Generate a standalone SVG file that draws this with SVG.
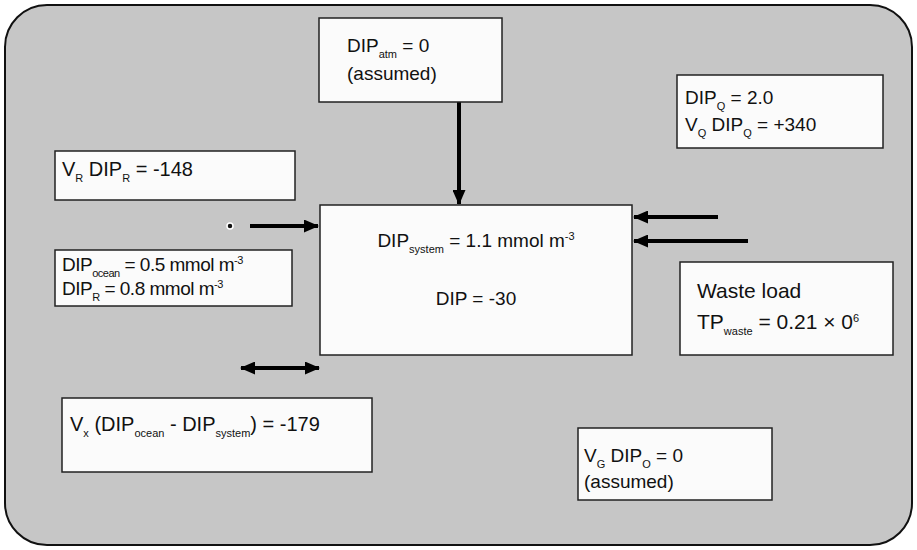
<svg xmlns="http://www.w3.org/2000/svg" width="917" height="550" viewBox="0 0 917 550">
<defs>
<marker id="ah" markerUnits="userSpaceOnUse" markerWidth="15" markerHeight="13" refX="14" refY="6.5" orient="auto-start-reverse">
<path d="M0,0 L15,6.5 L0,13 z" fill="#000"/>
</marker>
<style>
.bg{fill:#c6c6c6;stroke:#111;stroke-width:2}
.box{fill:#fbfbfb;stroke:#222;stroke-width:1.5}
text{font-family:"Liberation Sans",Arial,sans-serif;font-size:19px;fill:#111}
text.f20{font-size:20px}
text.f21{font-size:21px}
.sub{font-size:11px}
.tight{letter-spacing:-0.5px}
.con{stroke:#000;stroke-width:4;fill:none}
</style>
</defs>
<rect class="bg" x="5" y="5" width="907" height="540" rx="42" ry="42"/>

<g id="connectors">
<line class="con" x1="459" y1="102" x2="459" y2="204" marker-end="url(#ah)"/>
<line class="con" x1="250" y1="226" x2="318" y2="226" marker-end="url(#ah)"/>
<line class="con" x1="241" y1="368" x2="319" y2="368" marker-start="url(#ah)" marker-end="url(#ah)"/>
<line class="con" x1="718" y1="217" x2="634" y2="217" marker-end="url(#ah)"/>
<line class="con" x1="748" y1="241" x2="634" y2="241" marker-end="url(#ah)"/>
<line class="con" x1="770" y1="437" x2="670" y2="437" marker-end="url(#ah)"/>
<circle cx="230" cy="226" r="3" fill="#111" stroke="#fff" stroke-width="1.5"/>
</g>

<g id="atm">
<rect class="box" x="319" y="18" width="183" height="84"/>
<text x="347" y="52">DIP<tspan class="sub" dy="6">atm</tspan><tspan dy="-6"> = 0</tspan></text>
<text x="347" y="80">(assumed)</text>
</g>

<g id="discharge">
<rect class="box" x="677" y="75" width="206" height="73"/>
<text x="685" y="104">DIP<tspan class="sub" dy="6">Q</tspan><tspan dy="-6"> = 2.0</tspan></text>
<text x="685" y="131">V<tspan class="sub" dy="6">Q</tspan><tspan dy="-6"> DIP</tspan><tspan class="sub" dy="6">Q</tspan><tspan dy="-6"> = +340</tspan></text>
</g>

<g id="residual">
<rect class="box" x="55" y="151" width="240" height="49"/>
<text class="f20" x="62" y="176">V<tspan class="sub" dy="6">R</tspan><tspan dy="-6"> DIP</tspan><tspan class="sub" dy="6">R</tspan><tspan dy="-6"> = -148</tspan></text>
</g>

<g id="ocean">
<rect class="box" x="55" y="250" width="237" height="56"/>
<text class="tight" x="62" y="271">DIP<tspan class="sub" dy="6">ocean</tspan><tspan dy="-6"> = 0.5 mmol m</tspan><tspan class="sub" dy="-7">-3</tspan></text>
<text class="tight" x="62" y="295">DIP<tspan class="sub" dy="6">R</tspan><tspan dy="-6"> = 0.8 mmol m</tspan><tspan class="sub" dy="-7">-3</tspan></text>
</g>

<g id="system">
<rect class="box" x="320" y="205" width="312" height="150"/>
<text x="476" y="247" text-anchor="middle">DIP<tspan class="sub" dy="6">system</tspan><tspan dy="-6"> = 1.1 mmol m</tspan><tspan class="sub" dy="-7">-3</tspan></text>
<text x="476" y="305" text-anchor="middle">DIP = -30</text>
</g>

<g id="waste">
<rect class="box" x="680" y="262" width="213" height="93"/>
<text class="f21" x="697" y="298">Waste load</text>
<text class="f21" x="697" y="329">TP<tspan class="sub" dy="6">waste</tspan><tspan dy="-6"> = 0.21 × 0</tspan><tspan class="sub" dy="-7">6</tspan></text>
</g>

<g id="exchange">
<rect class="box" x="62" y="398" width="310" height="74"/>
<text class="f20" x="70" y="431">V<tspan class="sub" dy="6">x</tspan><tspan dy="-6"> (DIP</tspan><tspan class="sub" dy="6">ocean</tspan><tspan dy="-6"> - DIP</tspan><tspan class="sub" dy="6">system</tspan><tspan dy="-6">) = -179</tspan></text>
</g>

<g id="groundwater">
<rect class="box" x="578" y="428" width="194" height="72"/>
<text x="584" y="462">V<tspan class="sub" dy="6">G</tspan><tspan dy="-6"> DIP</tspan><tspan class="sub" dy="6">O</tspan><tspan dy="-6"> = 0</tspan></text>
<text x="584" y="488">(assumed)</text>
</g>
</svg>
